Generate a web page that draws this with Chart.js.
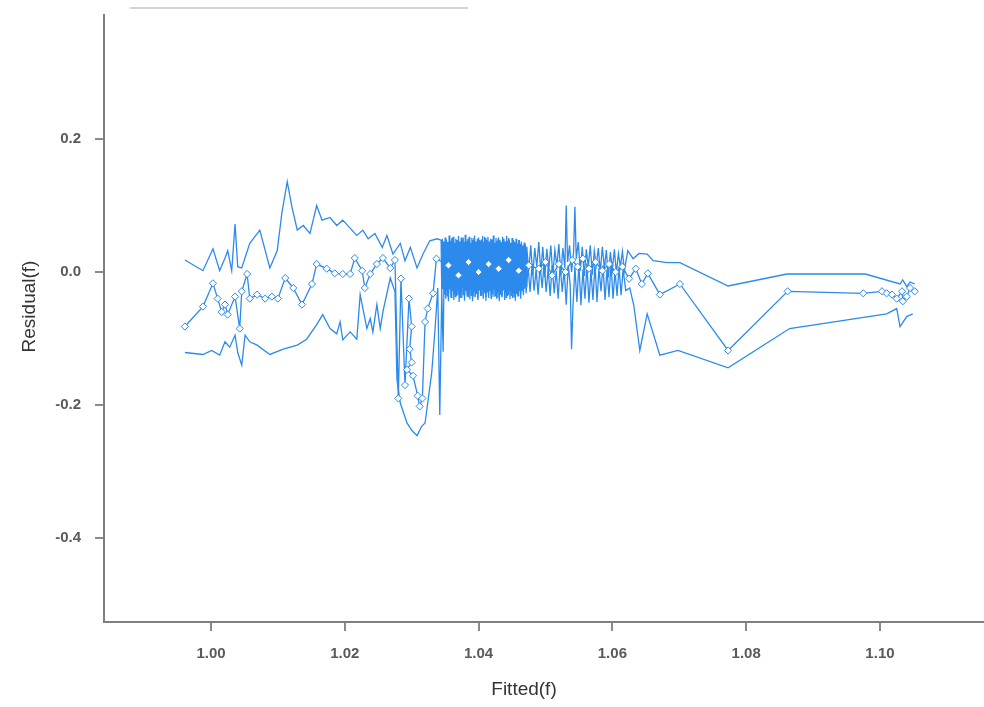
<!DOCTYPE html>
<html>
<head>
<meta charset="utf-8">
<script src="https://cdn.jsdelivr.net/npm/chart.js@4.4.1/dist/chart.umd.min.js"></script>
<style>
  html, body { margin: 0; padding: 0; background: #ffffff; }
  #wrap { position: relative; width: 984px; height: 707px; }
  #topline { position: absolute; left: 130px; top: 7px; width: 338px; height: 2px; background: #d4d4d4; }
  canvas { position: absolute; left: 0; top: 0; }
</style>
</head>
<body>
<div id="wrap">
  <canvas id="c" width="984" height="707"></canvas>
  <div id="topline"></div>
</div>
<script>
// ---------- data ----------
const xTickValues = [1.00, 1.02, 1.04, 1.06, 1.08, 1.10];
const xTickLabels = ["1.00", "1.02", "1.04", "1.06", "1.08", "1.10"];
const yTickValues = [0.2, 0.0, -0.2, -0.4];
const yTickLabels = ["0.2", "0.0", "-0.2", "-0.4"];
const xAxisTitle = "Fitted(f)";
const yAxisTitle = "Residual(f)";

// upper band
const upperBand = [
  [0.9961,0.018],[0.9988,0.002],[1.0003,0.035],[1.0013,0.002],[1.0021,0.021],[1.0025,0.032],[1.0031,0.002],
  [1.0036,0.072],[1.0040,0.008],[1.0046,0.006],[1.0058,0.043],[1.0073,0.063],[1.0088,0.006],[1.0099,0.032],
  [1.0106,0.089],[1.0114,0.136],[1.0121,0.098],[1.0129,0.063],[1.0138,0.070],[1.0148,0.058],[1.0158,0.100],
  [1.0166,0.078],[1.0178,0.082],[1.0188,0.070],[1.0197,0.078],[1.0208,0.066],[1.0218,0.055],[1.0227,0.063],
  [1.0235,0.050],[1.0245,0.058],[1.0256,0.037],[1.0263,0.055],[1.0272,0.027],[1.0283,0.043],[1.0290,0.017],
  [1.0298,0.037],[1.0308,0.006],[1.0317,0.027],[1.0327,0.047],[1.0338,0.050],
  [1.0344,0.048],[1.0345,-0.030],[1.0346,0.050],[1.0347,-0.025],[1.0348,0.046],[1.0349,-0.034],[1.0350,0.052],
  [1.0351,-0.028],[1.0352,0.049],[1.0353,-0.036],[1.0354,0.045],[1.0355,-0.031],[1.0356,0.055],[1.0357,-0.026],
  [1.0358,0.047],[1.0359,-0.038],[1.0360,0.051],[1.0361,-0.029],[1.0362,0.053],[1.0363,-0.033],[1.0364,0.044],
  [1.0365,-0.037],[1.0366,0.050],[1.0367,-0.027],[1.0368,0.048],[1.0369,-0.035],[1.0370,0.054],[1.0371,-0.030],
  [1.0372,0.046],[1.0373,-0.039],[1.0374,0.052],[1.0375,-0.024],[1.0376,0.049],[1.0377,-0.034],[1.0378,0.045],
  [1.0379,-0.036],[1.0380,0.056],[1.0381,-0.028],[1.0382,0.047],[1.0383,-0.032],[1.0384,0.050],[1.0385,-0.038],
  [1.0386,0.053],[1.0387,-0.026],[1.0388,0.044],[1.0389,-0.035],[1.0390,0.051],[1.0391,-0.031],[1.0392,0.048],
  [1.0393,-0.037],[1.0394,0.055],[1.0395,-0.029],[1.0396,0.046],[1.0397,-0.033],[1.0398,0.050],[1.0399,-0.039],
  [1.0400,0.052],[1.0401,-0.027],[1.0402,0.047],[1.0403,-0.034],[1.0404,0.049],[1.0405,-0.036],[1.0406,0.054],
  [1.0407,-0.025],[1.0408,0.045],[1.0409,-0.032],[1.0410,0.051],[1.0411,-0.038],[1.0412,0.048],[1.0413,-0.030],
  [1.0414,0.053],[1.0415,-0.035],[1.0416,0.046],[1.0417,-0.028],[1.0418,0.050],[1.0419,-0.037],[1.0420,0.049],
  [1.0421,-0.033],[1.0422,0.055],[1.0423,-0.026],[1.0424,0.044],[1.0425,-0.036],[1.0426,0.051],[1.0427,-0.031],
  [1.0428,0.047],[1.0429,-0.039],[1.0430,0.052],[1.0431,-0.029],[1.0432,0.048],[1.0433,-0.034],[1.0434,0.045],
  [1.0435,-0.037],[1.0436,0.053],[1.0437,-0.027],[1.0438,0.050],[1.0439,-0.032],[1.0440,0.046],[1.0441,-0.038],
  [1.0442,0.054],[1.0443,-0.030],[1.0444,0.047],[1.0445,-0.035],[1.0446,0.049],[1.0447,-0.028],[1.0448,0.044],
  [1.0449,-0.036],[1.0450,0.051],[1.0451,-0.031],[1.0452,0.048],[1.0453,-0.037],[1.0454,0.045],[1.0455,-0.026],
  [1.0456,0.050],[1.0457,-0.033],[1.0458,0.043],[1.0459,-0.035],[1.0460,0.048],[1.0461,-0.029],[1.0462,0.042],
  [1.0463,-0.032],[1.0464,0.046],[1.0465,-0.027],[1.0466,0.040],[1.0467,-0.030],[1.0468,0.044],[1.0469,-0.025],
  [1.0470,0.041],[1.0471,-0.022],[1.0472,0.038],
  [1.0475,0.002],[1.0478,0.040],[1.0481,-0.005],[1.0484,0.036],[1.0487,0.008],[1.0490,0.045],[1.0493,0.000],
  [1.0496,0.038],[1.0499,-0.008],[1.0502,0.035],[1.0505,0.004],[1.0508,0.040],[1.0511,-0.006],[1.0514,0.033],
  [1.0517,0.010],[1.0520,0.042],[1.0523,-0.004],[1.0526,0.036],[1.0529,0.006],[1.0531,0.100],[1.0533,0.015],
  [1.0536,0.040],[1.0539,0.000],[1.0542,0.030],[1.0544,0.098],[1.0546,0.020],[1.0549,0.045],[1.0552,0.002],
  [1.0555,0.038],[1.0558,-0.006],[1.0561,0.034],[1.0564,0.008],[1.0567,0.040],[1.0570,-0.004],[1.0573,0.032],
  [1.0576,0.010],[1.0579,0.036],[1.0582,0.000],[1.0585,0.038],[1.0588,0.006],[1.0591,0.033],[1.0594,-0.008],
  [1.0597,0.030],[1.0600,0.004],[1.0603,0.034],[1.0606,-0.002],[1.0609,0.028],[1.0612,0.008],[1.0615,0.031],
  [1.0618,0.002],[1.0623,0.032],[1.0631,0.020],[1.0640,0.028],[1.0652,0.027],[1.0661,0.017],[1.0682,0.014],
  [1.0701,0.014],[1.0773,-0.021],[1.0861,-0.003],[1.0978,-0.003],[1.1030,-0.018],[1.1034,-0.012],
  [1.1040,-0.022],[1.1045,-0.015],[1.1052,-0.018]
];

// fitted residual line (with diamond markers)
const residualLine = [
  [0.9961,-0.082],[0.9988,-0.052],[1.0003,-0.017],[1.0010,-0.040],[1.0016,-0.060],[1.0021,-0.049],[1.0025,-0.064],
  [1.0036,-0.037],[1.0043,-0.085],[1.0046,-0.029],[1.0054,-0.003],[1.0058,-0.040],[1.0069,-0.034],[1.0081,-0.040],
  [1.0091,-0.037],[1.0100,-0.040],[1.0111,-0.009],[1.0123,-0.024],[1.0136,-0.049],[1.0151,-0.018],[1.0158,0.012],
  [1.0173,0.005],[1.0185,-0.002],[1.0197,-0.003],[1.0208,-0.003],[1.0215,0.021],[1.0226,0.002],[1.0230,-0.024],
  [1.0238,-0.003],[1.0248,0.012],[1.0257,0.021],[1.0268,0.006],[1.0275,0.018],[1.0280,-0.190],[1.0284,-0.010],
  [1.0290,-0.170],[1.0296,-0.040],[1.0300,-0.082],[1.0297,-0.116],[1.0300,-0.136],[1.0293,-0.147],[1.0302,-0.156],
  [1.0309,-0.186],[1.0312,-0.202],[1.0316,-0.190],[1.0320,-0.075],[1.0324,-0.055],[1.0332,-0.032],[1.0337,0.020],
  [1.0355,0.010],[1.0370,-0.005],[1.0385,0.015],[1.0400,0.000],[1.0415,0.012],[1.0430,0.005],[1.0445,0.018],
  [1.0460,0.002],[1.0475,0.010],[1.0490,0.005],[1.0500,0.015],[1.0510,-0.005],[1.0520,0.012],[1.0530,0.000],
  [1.0540,0.018],[1.0548,0.008],[1.0556,0.020],[1.0565,0.005],[1.0575,0.015],[1.0585,0.002],[1.0595,0.012],
  [1.0605,0.000],[1.0615,0.008],[1.0625,-0.010],[1.0635,0.005],[1.0644,-0.018],[1.0653,-0.002],[1.0671,-0.034],
  [1.0701,-0.018],[1.0773,-0.118],[1.0862,-0.029],[1.0975,-0.032],[1.1003,-0.029],[1.1010,-0.032],[1.1018,-0.034],
  [1.1025,-0.040],[1.1033,-0.029],[1.1034,-0.044],[1.1040,-0.037],[1.1045,-0.024],[1.1052,-0.029]
];

// lower band
const lowerBand = [
  [0.9961,-0.121],[0.9988,-0.124],[1.0001,-0.118],[1.0013,-0.125],[1.0021,-0.105],[1.0028,-0.113],[1.0036,-0.095],
  [1.0040,-0.121],[1.0046,-0.140],[1.0051,-0.095],[1.0058,-0.105],[1.0069,-0.110],[1.0088,-0.124],[1.0108,-0.116],
  [1.0129,-0.110],[1.0143,-0.101],[1.0158,-0.079],[1.0167,-0.064],[1.0178,-0.085],[1.0188,-0.093],[1.0193,-0.075],
  [1.0197,-0.102],[1.0208,-0.090],[1.0218,-0.101],[1.0223,-0.034],[1.0233,-0.085],[1.0238,-0.070],[1.0242,-0.090],
  [1.0248,-0.049],[1.0253,-0.085],[1.0257,-0.060],[1.0268,-0.009],[1.0275,-0.029],[1.0278,-0.162],[1.0283,-0.197],
  [1.0293,-0.227],[1.0300,-0.238],[1.0308,-0.246],[1.0315,-0.232],[1.0320,-0.227],[1.0324,-0.197],[1.0330,-0.151],
  [1.0335,-0.085],[1.0339,-0.024],[1.0342,-0.215],[1.0345,-0.030],[1.0347,-0.120],
  [1.0349,0.040],[1.0351,-0.040],[1.0353,0.045],[1.0355,-0.044],[1.0357,0.038],[1.0359,-0.038],[1.0361,0.050],
  [1.0363,-0.042],[1.0365,0.042],[1.0367,-0.036],[1.0369,0.047],[1.0371,-0.045],[1.0373,0.040],[1.0375,-0.039],
  [1.0377,0.052],[1.0379,-0.043],[1.0381,0.044],[1.0383,-0.037],[1.0385,0.049],[1.0387,-0.041],[1.0389,0.041],
  [1.0391,-0.044],[1.0393,0.051],[1.0395,-0.038],[1.0397,0.043],[1.0399,-0.042],[1.0401,0.048],[1.0403,-0.036],
  [1.0405,0.040],[1.0407,-0.040],[1.0409,0.053],[1.0411,-0.043],[1.0413,0.045],[1.0415,-0.039],[1.0417,0.038],
  [1.0419,-0.041],[1.0421,0.049],[1.0423,-0.037],[1.0425,0.043],[1.0427,-0.040],[1.0429,0.050],[1.0431,-0.044],
  [1.0433,0.041],[1.0435,-0.038],[1.0437,0.047],[1.0439,-0.042],[1.0441,0.039],[1.0443,-0.036],[1.0445,0.051],
  [1.0447,-0.041],[1.0449,0.042],[1.0451,-0.039],[1.0453,0.046],[1.0455,-0.043],[1.0457,0.040],[1.0459,-0.037],
  [1.0461,0.048],[1.0463,-0.040],[1.0465,0.038],[1.0467,-0.035],[1.0469,0.044],[1.0471,-0.032],
  [1.0474,0.008],[1.0477,-0.030],[1.0480,0.012],[1.0483,-0.028],[1.0486,0.004],[1.0489,-0.034],[1.0492,0.010],
  [1.0495,-0.024],[1.0498,0.014],[1.0501,-0.030],[1.0504,0.006],[1.0507,-0.036],[1.0510,0.010],[1.0513,-0.032],
  [1.0516,0.002],[1.0519,-0.040],[1.0522,0.012],[1.0525,-0.030],[1.0528,0.004],[1.0531,-0.049],[1.0534,0.010],
  [1.0537,-0.020],[1.0539,-0.116],[1.0541,-0.055],[1.0544,0.008],[1.0547,-0.045],[1.0550,0.012],[1.0553,-0.050],
  [1.0556,0.004],[1.0559,-0.040],[1.0562,0.010],[1.0565,-0.046],[1.0568,0.002],[1.0571,-0.042],[1.0574,0.012],
  [1.0577,-0.045],[1.0580,0.006],[1.0583,-0.029],[1.0586,0.010],[1.0589,-0.042],[1.0592,0.004],[1.0595,-0.038],
  [1.0598,0.012],[1.0601,-0.040],[1.0604,0.002],[1.0607,-0.036],[1.0610,0.008],[1.0613,-0.035],[1.0616,0.004],
  [1.0620,-0.028],[1.0626,-0.024],[1.0632,-0.050],[1.0641,-0.118],[1.0652,-0.063],[1.0671,-0.125],[1.0698,-0.118],
  [1.0773,-0.144],[1.0865,-0.085],[1.1010,-0.063],[1.1025,-0.055],[1.1030,-0.082],[1.1040,-0.067],[1.1049,-0.063]
];

// ---------- chart ----------
const BLUE = 'rgb(44,138,236)';
const toXY = arr => arr.map(p => ({ x: p[0], y: p[1] }));

const axisTitles = {
  id: 'axisTitles',
  afterDraw(chart) {
    const ctx = chart.ctx;
    const area = chart.chartArea;
    ctx.save();
    ctx.fillStyle = '#333333';
    ctx.font = '19px "Liberation Sans", Arial, sans-serif';
    ctx.textAlign = 'center';
    ctx.textBaseline = 'middle';
    ctx.fillText(xAxisTitle, (area.left + area.right) / 2 - 20, 690);
    ctx.translate(30, (area.top + area.bottom) / 2 - 12);
    ctx.rotate(-Math.PI / 2);
    ctx.fillText(yAxisTitle, 0, 0);
    ctx.restore();
  }
};

const axisCommon = {
  type: 'linear',
  border: { display: true, color: '#7f7f7f', width: 2 },
  grid: { display: true, drawOnChartArea: false, drawTicks: true, tickLength: 9, color: '#8a8a8a', lineWidth: 2 },
};

new Chart(document.getElementById('c'), {
  type: 'scatter',
  data: {
    datasets: [
      { label: 'Residual', data: toXY(residualLine), showLine: true, borderColor: BLUE, borderWidth: 1.3,
        pointStyle: 'rectRot', pointRadius: 3.6, pointBorderWidth: 1, pointBackgroundColor: '#ffffff',
        pointBorderColor: BLUE, tension: 0 },
      { label: 'Upper', data: toXY(upperBand), showLine: true, borderColor: BLUE, borderWidth: 1.3,
        pointRadius: 0, tension: 0 },
      { label: 'Lower', data: toXY(lowerBand), showLine: true, borderColor: BLUE, borderWidth: 1.3,
        pointRadius: 0, tension: 0 }
    ]
  },
  options: {
    responsive: false,
    animation: false,
    layout: { autoPadding: false, padding: { top: 15, right: 0, left: 0, bottom: 0 } },
    plugins: { legend: { display: false }, tooltip: { enabled: false } },
    scales: {
      x: Object.assign({}, axisCommon, {
        min: 0.98401, max: 1.11555,
        afterFit(s) { s.height = 85; s.paddingLeft = 0; s.paddingRight = 0; },
        afterBuildTicks(s) { s.ticks = xTickValues.map(v => ({ value: v })); },
        ticks: {
          autoSkip: false, maxRotation: 0, padding: 14,
          color: '#5a5a5a', font: { family: '"Liberation Sans", Arial, sans-serif', size: 15, weight: 'bold' },
          callback: (v, i) => xTickLabels[i]
        }
      }),
      y: Object.assign({}, axisCommon, {
        min: -0.5263, max: 0.3865,
        afterFit(s) { s.width = 104; s.paddingTop = 0; s.paddingBottom = 0; },
        afterBuildTicks(s) { s.ticks = yTickValues.map(v => ({ value: v })); },
        ticks: {
          autoSkip: false, padding: 14,
          color: '#5a5a5a', font: { family: '"Liberation Sans", Arial, sans-serif', size: 15, weight: 'bold' },
          callback: (v, i) => yTickLabels[i]
        }
      })
    }
  },
  plugins: [axisTitles]
});
</script>
</body>
</html>
